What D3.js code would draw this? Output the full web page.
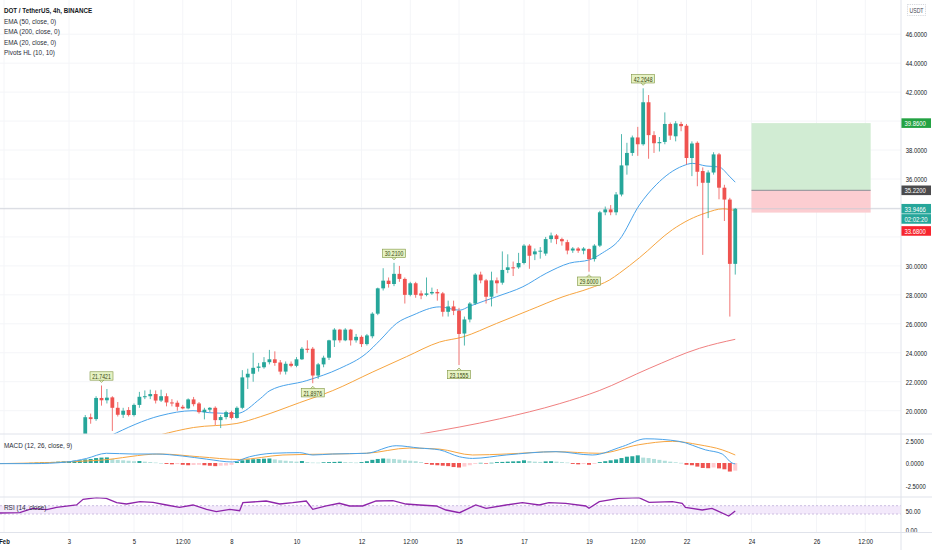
<!DOCTYPE html>
<html>
<head>
<meta charset="utf-8">
<script src="https://cdnjs.cloudflare.com/ajax/libs/d3/7.8.5/d3.min.js"></script>
<style>
  body { margin: 0; background: #fff; }
  svg { display: block; font-family: "Liberation Sans", Arial, sans-serif; }
</style>
</head>
<body>
<div id="chart"></div>
<script>
// ---- data ----
var candleStart = Date.UTC(2021, 1, 3, 12);   // first visible 4h candle
var oscStart = Date.UTC(2021, 1, 1, 0);       // first MACD / RSI bar

var open  = [18.3,19.55,19.42,20.88,20.72,20.92,20.2,19.72,20.05,19.7,20.4,20.96,21.0,21.15,20.7,21.0,20.57,20.55,20.27,20.16,
  20.78,20.5,19.9,20.07,20.2,19.35,19.56,19.9,19.5,20.2,22.3,22.55,22.96,23.0,23.35,23.55,23.33,22.7,23.24,23.1,
  23.55,24.28,24.28,22.43,23.2,23.66,24.86,25.6,24.86,25.6,24.86,25.1,24.6,25.14,26.7,28.45,28.98,28.75,29.45,29.1,
  28.0,28.8,28.1,28.0,28.1,28.2,28.1,26.83,27.2,26.9,25.33,26.3,27.4,29.4,29.0,27.87,29.0,28.84,29.72,29.9,
  29.9,30.2,31.4,30.8,31.0,30.85,31.85,32.1,31.85,31.64,31.06,31.2,31.05,31.16,30.47,31.4,33.7,33.9,33.7,34.93,
  36.94,37.8,38.87,38.4,41.3,39.03,38.47,38.56,39.8,38.95,39.8,39.68,37.45,38.5,36.55,35.74,36.45,37.7,35.4,34.58,30.14];
var high  = [19.7,19.8,21.0,21.7421,21.5,21.0,20.6,20.2,20.25,20.5,21.3,21.4,21.45,21.4,21.45,21.2,20.8,20.7,20.4,20.85,
  20.95,20.6,20.2,20.25,20.3,19.7,20.0,20.0,20.3,22.8,22.9,24.0,23.3,23.7,24.2,24.1,23.5,23.4,23.4,23.7,
  24.4,24.86,24.4,23.3,23.8,24.9,25.7,25.65,25.7,25.65,25.3,25.2,25.3,26.8,28.5,29.84,29.2,30.21,30.0,29.2,
  28.9,28.9,28.3,29.2,28.5,28.4,28.2,27.6,27.6,27.1,26.5,27.5,29.5,29.6,29.1,29.6,29.2,31.0,30.8,30.3,
  30.9,31.5,31.5,31.2,31.3,32.0,32.3,32.2,31.95,31.8,31.3,31.3,31.3,31.2,31.5,33.8,34.1,34.2,35.1,39.1,
  38.5,39.0,39.6,42.2648,41.8,39.3,38.9,40.6,39.9,40.0,39.95,39.8,38.6,38.6,36.8,36.6,37.85,37.8,35.6,34.7,34.0];
var low   = [18.0,19.1,19.3,20.35,20.5,18.6,19.6,19.5,19.6,19.6,20.2,20.8,20.8,20.5,20.6,20.3,20.3,20.0,20.1,20.1,
  20.3,19.8,19.4,19.9,19.0,18.8,19.4,19.4,19.45,20.1,21.5,22.0,22.7,22.9,23.2,23.1,22.5,22.5,23.0,23.0,
  23.5,24.0,21.8976,22.2,23.0,23.5,24.4,24.7,24.8,24.5,24.7,24.4,24.5,25.0,26.6,28.3,28.5,28.6,28.9,27.4,
  27.9,27.8,27.7,27.9,28.0,27.6,26.5,26.5,26.6,23.1555,24.5,26.1,27.3,28.8,27.4,27.2,28.1,28.7,29.5,29.3,
  29.8,30.1,29.8,30.4,30.5,30.7,31.6,31.5,31.4,30.8,30.9,30.9,30.8,29.6,30.3,31.3,33.5,33.5,33.5,34.8,
  36.3,37.6,37.6,38.3,37.4,37.8,37.9,38.4,38.7,38.6,39.3,37.0,36.2,35.5,30.76,33.3,36.3,34.6,33.1,26.5,29.4];
var close = [19.55,19.42,20.88,20.72,20.9,20.2,19.72,20.0,19.7,20.4,20.96,21.0,21.15,20.7,21.0,20.57,20.5,20.27,20.16,20.78,
  20.45,19.9,20.07,20.2,19.35,19.56,19.9,19.5,20.2,22.3,22.55,22.96,23.05,23.35,23.55,23.3,22.7,23.24,23.1,23.55,
  24.28,24.2,22.43,23.2,23.66,24.86,25.6,24.86,25.6,24.86,25.1,24.6,25.2,26.7,28.45,28.98,28.75,29.45,29.1,28.0,
  28.8,28.0,27.95,28.1,28.2,28.1,26.83,27.2,26.9,25.3,26.3,27.4,29.4,29.0,27.87,29.0,28.8,29.72,29.9,29.85,
  30.2,31.4,30.7,31.0,31.05,31.85,32.1,31.85,31.7,31.06,31.2,31.05,31.2,30.47,31.4,33.7,33.9,33.7,34.93,36.94,
  37.8,38.87,38.4,41.3,39.03,38.47,38.55,39.8,39.0,39.84,39.65,37.45,38.45,36.5,35.74,36.45,37.7,35.4,34.58,30.14,33.9466];

// [candle index, value]
var ema20 = [[4.6,18.26],[13.8,19.65],[19.9,20.0],[23,19.86],[28,19.81],[32.3,20.83],[34.1,21.39],[40.9,22.08],[47,22.92],
  [51.9,23.96],[54.4,24.86],[57.5,26.04],[60.5,26.6],[65.4,27.17],[69.1,26.94],[71,27.22],[75.9,27.87],[80.8,28.56],
  [85.1,29.49],[89.4,30.19],[93.1,30.42],[95.5,30.9],[98.6,31.8],[102.3,34.2],[105.4,35.6],[110.3,36.9],[112.1,37.08],
  [114.6,36.9],[117,36.83],[118.9,36.2],[120,35.78]];
var ema50 = [[13.8,18.33],[20,18.84],[28,19.12],[32.3,19.58],[39.6,20.56],[45.7,21.39],[53.1,22.68],[59.3,23.73],[65.4,24.74],
  [69.7,25.09],[75.9,26.02],[82,26.94],[88.2,27.87],[93.1,28.45],[96.8,29.03],[98.6,29.49],[102.3,30.56],[108.4,32.5],
  [111.5,33.19],[114.6,33.66],[117.7,33.94],[120,33.82]];
var ema200 = [[61.8,18.39],[76.5,19.44],[87.6,20.49],[94.9,21.39],[104.1,22.92],[113.4,24.31],[120,24.93]];

var pivotHighIdx = [3, 57, 103];
var pivotLowIdx = [42, 69, 93];

var targetPrice = 39.86, entryPrice = 35.22, stopPrice = 33.68;
var positionFrom = "2021-02-24T00:00Z", positionTo = "2021-02-27T16:00Z";
var lastPrice = 33.9466, countdown = "02:02:20";

// MACD histogram, one value per 4h bar from Feb 1
var macdHist = [-0.1,-0.1,-0.08,-0.05,0,0.02,0.05,0.08,0.1,0.12,0.15,0.18,0.2,0.25,0.3,0.4,0.45,0.55,0.6,0.62,
  0.45,0.35,0.3,0.25,0.2,0.22,0.15,0.1,0.05,0,-0.1,-0.15,-0.12,-0.2,-0.25,-0.22,-0.2,-0.25,-0.3,-0.35,
  -0.3,-0.28,-0.2,0.15,0.3,0.4,0.42,0.45,0.48,0.5,0.4,0.3,0.25,0.2,0.15,0.22,0.1,0.05,0.04,0.08,
  0.1,0.12,0.15,0.1,0.08,0.05,0.1,0.2,0.35,0.45,0.5,0.48,0.45,0.38,0.3,0.25,0.2,0.1,-0.1,-0.2,
  -0.25,-0.3,-0.35,-0.45,-0.5,-0.4,-0.25,-0.1,0.02,-0.05,0.03,0.1,0.12,0.15,0.18,0.2,0.3,0.22,0.15,0.12,
  0.18,0.2,0.15,0.1,0.05,-0.1,-0.15,-0.12,-0.2,-0.1,0.1,0.2,0.3,0.4,0.55,0.7,0.75,0.85,0.6,0.55,
  0.45,0.35,0.25,0.15,0.08,0.02,-0.2,-0.25,-0.4,-0.55,-0.58,-0.5,-0.6,-0.7,-0.95,-0.85];
// [bar index from Feb 1, value]
var macdLine = [[-1,-0.07],[5.3,-0.07],[11.6,0.11],[15.2,0.5],[18.9,1.08],[23.8,1.0],[28.1,1.0],[33,0.77],[37.4,0.43],
  [42.2,0.11],[45.3,0.69],[49.6,1.08],[54.6,1.15],[57,0.89],[60.6,1.0],[66.9,1.08],[72.4,1.92],[76.7,1.66],[80.4,1.46],
  [84.1,0.69],[86.5,0.51],[92.7,0.89],[101.9,1.26],[108.6,0.89],[114.2,1.84],[118.5,2.69],[124.6,2.41],[129.5,1.46],
  [132.6,1.0],[134.4,0.0],[135,-0.1]];
var signalLine = [[-1,-0.07],[17.7,0.31],[28.8,1.0],[36.1,0.69],[43.5,0.39],[51.5,0.89],[60.6,1.0],[66.9,1.08],[74.8,1.66],
  [80.4,1.54],[86.5,0.89],[92.7,1.0],[101.9,1.26],[109.9,1.08],[117.2,2.03],[123.4,2.41],[128.3,2.03],[132.6,1.46],[135,0.89]];
var rsiLine = [[-1,44.7],[2.9,45.5],[5.3,57.1],[7.9,53.4],[9.7,59.7],[13.4,65.8],[14.6,80.8],[17.1,85],[18.9,83.4],[20.8,71.8],
  [22.6,68.4],[25.1,74.5],[27.5,72.9],[30,65.8],[32.4,59.7],[34.9,65.8],[37.4,54.5],[39.2,48.2],[41.7,54.5],[43.5,50.8],
  [44.1,71.8],[48.4,76.3],[50.9,68.4],[53.3,71.8],[55.8,76.3],[57,54.5],[59.5,63.2],[61.9,70.3],[63.8,63.2],[66.2,63.2],
  [68.7,76.3],[71.8,77.1],[74.2,68.4],[76.7,65.8],[79.8,63.2],[81.6,52.6],[84.1,45.5],[87.1,65.8],[89,57.1],[92.7,65.8],
  [95.7,71.8],[98.8,65.8],[100.6,71.8],[103.7,70.3],[107.4,63.2],[108,57.1],[109.9,74.5],[113.5,83.4],[117.2,85],[119.1,72.9],
  [123.4,74.5],[125.2,70.3],[125.8,59.7],[128.9,52.6],[130.7,57.1],[133.8,36.8],[135,50]];
var rsiBandTop = 64, rsiBandBottom = 42;

var priceTicks = [20,22,24,26,28,30,32,34,36,38,40,42,44,46];
var macdTicks = [2.5, 0, -2.5];
var rsiTicks = [50, 0];
var timeTicks = ["2021-02-01T00:00Z","2021-02-03T00:00Z","2021-02-05T00:00Z","2021-02-06T12:00Z","2021-02-08T00:00Z",
  "2021-02-10T00:00Z","2021-02-12T00:00Z","2021-02-13T12:00Z","2021-02-15T00:00Z","2021-02-17T00:00Z","2021-02-19T00:00Z",
  "2021-02-20T12:00Z","2021-02-22T00:00Z","2021-02-24T00:00Z","2021-02-26T00:00Z","2021-02-27T12:00Z"];
var timeTickLabels = ["Feb","3","5","12:00","8","10","12","12:00","15","17","19","12:00","22","24","26","12:00"];
var legendLines = ["EMA (50, close, 0)", "EMA (200, close, 0)", "EMA (20, close, 0)", "Pivots HL (10, 10)"];

// ---- layout ----
var W = 932, H = 550;
var axisX = 901, mainBottom = 434, macdBottom = 497, rsiBottom = 532.5;
var up = "#26a69a", down = "#ef5350", sepColor = "#e0e3eb", textColor = "#131722";
var SX = 0.74;  // screenshot is horizontally squeezed

var hour4 = 4 * 3600 * 1000;
function candleTime(i) { return new Date(candleStart + i * hour4); }
function oscTime(j) { return new Date(oscStart + j * hour4); }

var x = d3.scaleUtc().domain([new Date("2021-02-01T00:00Z"), new Date("2021-02-28T00:00Z")]).range([4, 881.5]);
var y = d3.scaleLinear().domain([20, 46]).range([410.7, 34.2]);
var yMacd = d3.scaleLinear().domain([-2.5, 2.5]).range([485.5, 440.5]);
var yRsi = d3.scaleLinear().domain([0, 100]).range([530, 492]);

var svg = d3.select("#chart").append("svg").attr("width", W).attr("height", H);
var defs = svg.append("defs");
function clip(id, y0, y1) {
  defs.append("clipPath").attr("id", id).append("rect")
    .attr("x", 0).attr("y", y0).attr("width", axisX).attr("height", y1 - y0);
}
clip("c-main", 0, mainBottom);
clip("c-macd", mainBottom, macdBottom);
clip("c-rsi", macdBottom, rsiBottom);

function txt(g, x0, y0, s, size, opts) {
  opts = opts || {};
  return g.append("text")
    .attr("transform", "translate(" + x0 + "," + y0 + ") scale(" + (opts.sx || SX) + ",1)")
    .attr("font-size", size)
    .attr("font-weight", opts.bold ? "bold" : null)
    .attr("fill", opts.fill || textColor)
    .attr("text-anchor", opts.anchor || "start")
    .attr("dominant-baseline", "central")
    .text(s);
}

// faint grid
var grid = svg.append("g");
grid.selectAll("line.v").data(timeTicks).enter().append("line")
  .attr("x1", d => x(new Date(d))).attr("x2", d => x(new Date(d)))
  .attr("y1", 0).attr("y2", rsiBottom).attr("stroke", "#f4f5f8");
grid.selectAll("line.h").data(priceTicks).enter().append("line")
  .attr("x1", 0).attr("x2", axisX).attr("y1", d => y(d)).attr("y2", d => y(d)).attr("stroke", "#f4f5f8");

// ---- main panel ----
var main = svg.append("g").attr("clip-path", "url(#c-main)");

// long position tool
var px0 = x(new Date(positionFrom)), px1 = x(new Date(positionTo));
main.append("rect").attr("x", px0).attr("width", px1 - px0)
  .attr("y", y(targetPrice)).attr("height", y(entryPrice) - y(targetPrice)).attr("fill", "#d1ecd3");
main.append("rect").attr("x", px0).attr("width", px1 - px0)
  .attr("y", y(entryPrice)).attr("height", y(stopPrice) - y(entryPrice)).attr("fill", "#fccdd1");
main.append("line").attr("x1", px0).attr("x2", px1).attr("y1", y(entryPrice)).attr("y2", y(entryPrice))
  .attr("stroke", "#8a8d94").attr("stroke-width", 1);

// last price line
main.append("line").attr("x1", 0).attr("x2", axisX).attr("y1", y(lastPrice)).attr("y2", y(lastPrice))
  .attr("stroke", "#c9ccd4").attr("stroke-width", 0.8);

// EMA lines
function emaPath(data, color) {
  main.append("path").datum(data)
    .attr("fill", "none").attr("stroke", color).attr("stroke-width", 1)
    .attr("d", d3.line().x(d => x(candleTime(d[0]))).y(d => y(d[1])).curve(d3.curveMonotoneX));
}
emaPath(ema200, "#f08080");
emaPath(ema50, "#f7a540");
emaPath(ema20, "#4aa3ea");

// candles
var candles = open.map(function(o, i) {
  return { t: candleTime(i), o: o, h: high[i], l: low[i], c: close[i] };
});
main.selectAll("line.wick").data(candles).enter().append("line")
  .attr("x1", d => x(d.t)).attr("x2", d => x(d.t))
  .attr("y1", d => y(d.h)).attr("y2", d => y(d.l))
  .attr("stroke", d => d.c >= d.o ? up : down).attr("stroke-width", 0.8);
main.selectAll("rect.body").data(candles).enter().append("rect")
  .attr("x", d => x(d.t) - 1.9).attr("width", 3.8)
  .attr("y", d => y(Math.max(d.o, d.c)))
  .attr("height", d => Math.max(1, Math.abs(y(d.o) - y(d.c))))
  .attr("fill", d => d.c >= d.o ? up : down);

// pivot labels
function pivotLabel(i, val, isHigh) {
  var cx = x(candleTime(i));
  var tip = y(val) + (isHigh ? -3 : 3);
  var cy = isHigh ? tip - 6.5 : tip + 6.5;
  var g = main.append("g");
  g.append("path")
    .attr("d", isHigh
      ? "M" + (cx - 2.5) + "," + (cy + 4) + "L" + cx + "," + tip + "L" + (cx + 2.5) + "," + (cy + 4)
      : "M" + (cx - 2.5) + "," + (cy - 4) + "L" + cx + "," + tip + "L" + (cx + 2.5) + "," + (cy - 4))
    .attr("fill", "#e6f2c4").attr("stroke", "#7f9440").attr("stroke-width", 0.6);
  g.append("rect").attr("x", cx - 11.5).attr("y", cy - 4.2).attr("width", 23).attr("height", 8.4)
    .attr("fill", "#e6f2c4").attr("stroke", "#7f9440").attr("stroke-width", 0.6);
  txt(g, cx, cy + 0.3, val.toFixed(4), 7, { anchor: "middle", fill: "#39480f" });
}
pivotHighIdx.forEach(i => pivotLabel(i, high[i], true));
pivotLowIdx.forEach(i => pivotLabel(i, low[i], false));

// ---- MACD panel ----
var macd = svg.append("g").attr("clip-path", "url(#c-macd)");
macd.selectAll("rect").data(macdHist).enter().append("rect")
  .attr("x", (d, j) => x(oscTime(j)) - 2).attr("width", 4)
  .attr("y", d => Math.min(yMacd(0), yMacd(d)))
  .attr("height", d => Math.max(0.6, Math.abs(yMacd(d) - yMacd(0))))
  .attr("fill", function(d, j) {
    var prev = j > 0 ? macdHist[j - 1] : d;
    if (d >= 0) return d >= prev ? "#26a69a" : "#b2dfdb";
    return d <= prev ? "#ef5350" : "#ffcdd2";
  });
var oscLine = d3.line().x(d => x(oscTime(d[0]))).curve(d3.curveMonotoneX);
macd.append("path").datum(signalLine).attr("fill", "none").attr("stroke", "#f7a540").attr("stroke-width", 1)
  .attr("d", oscLine.y(d => yMacd(d[1])));
macd.append("path").datum(macdLine).attr("fill", "none").attr("stroke", "#4aa3ea").attr("stroke-width", 1)
  .attr("d", oscLine.y(d => yMacd(d[1])));

// ---- RSI panel ----
var rsi = svg.append("g").attr("clip-path", "url(#c-rsi)");
rsi.append("rect").attr("x", 0).attr("width", axisX)
  .attr("y", yRsi(rsiBandTop)).attr("height", yRsi(rsiBandBottom) - yRsi(rsiBandTop)).attr("fill", "#f3e9fb");
[rsiBandTop, rsiBandBottom].forEach(function(v) {
  rsi.append("line").attr("x1", 0).attr("x2", axisX).attr("y1", yRsi(v)).attr("y2", yRsi(v))
    .attr("stroke", "#b9a6d6").attr("stroke-width", 0.7).attr("stroke-dasharray", "2,2");
});
rsi.append("path").datum(rsiLine).attr("fill", "none").attr("stroke", "#8e24aa").attr("stroke-width", 1.3)
  .attr("d", d3.line().x(d => x(oscTime(d[0]))).y(d => yRsi(d[1])));

// ---- price scales ----
// coloured tags sit on the scale; plain tick labels hidden behind them are skipped
var tags = [
  { y: y(targetPrice), s: targetPrice.toFixed(4), bg: "#23a243" },
  { y: y(entryPrice), s: entryPrice.toFixed(4), bg: "#4a4a4c" },
  { y: y(lastPrice), s: lastPrice.toFixed(4), bg: "#26a69a" },
  { y: y(lastPrice) + 10.2, s: countdown, bg: "#26a69a" },
  { y: y(lastPrice) + 22.2, s: stopPrice.toFixed(4), bg: "#f7252f" }
];
var shownTicks = priceTicks.filter(p => tags.every(t => Math.abs(t.y - y(p)) > 7));

function priceAxis(scale, ticks, fmt) {
  var g = svg.append("g").attr("transform", "translate(" + (axisX + 1) + ",0)")
    .call(d3.axisRight(scale).tickValues(ticks).tickFormat(fmt).tickSize(0).tickPadding(5));
  g.select(".domain").remove();
  g.selectAll("text").attr("transform", "scale(" + SX + ",1)")
    .attr("font-size", 8).attr("font-family", "Liberation Sans, Arial, sans-serif").attr("fill", textColor);
  return g;
}
priceAxis(y, shownTicks, d => d.toFixed(4));
priceAxis(yMacd, macdTicks, d => d.toFixed(4));
priceAxis(yRsi, rsiTicks, d => d.toFixed(2));

tags.forEach(function(t) {
  var g = svg.append("g");
  g.append("rect").attr("x", axisX).attr("y", t.y - 4.8).attr("width", 30).attr("height", 9.6).attr("fill", t.bg);
  txt(g, axisX + 3.5, t.y + 0.3, t.s, 8, { fill: "#fff" });
});

// currency box
svg.append("rect").attr("x", 907.5).attr("y", 4.5).attr("width", 18).attr("height", 11)
  .attr("fill", "#fff").attr("stroke", "#b8bcc6").attr("stroke-width", 0.6).attr("stroke-dasharray", "1.2,1");
txt(svg, 916.5, 10.3, "USDT", 7, { anchor: "middle", fill: "#434651" });

// ---- separators ----
svg.append("rect").attr("x", 0).attr("y", rsiBottom).attr("width", W).attr("height", H - rsiBottom).attr("fill", "#fff");
[mainBottom, macdBottom, rsiBottom].forEach(function(v) {
  svg.append("line").attr("x1", 0).attr("x2", W).attr("y1", v).attr("y2", v).attr("stroke", sepColor);
});
svg.append("line").attr("x1", axisX).attr("x2", axisX).attr("y1", 0).attr("y2", H).attr("stroke", sepColor);

// ---- time axis ----
var xa = svg.append("g").attr("transform", "translate(0," + rsiBottom + ")")
  .call(d3.axisBottom(x).tickValues(timeTicks.map(d => new Date(d)))
    .tickFormat((d, i) => timeTickLabels[i]).tickSize(0).tickPadding(6));
xa.select(".domain").remove();
xa.selectAll("text").attr("transform", "scale(" + SX + ",1)")
  .attr("font-size", 8).attr("font-family", "Liberation Sans, Arial, sans-serif").attr("fill", textColor)
  .attr("font-weight", (d, i) => i === 0 ? "bold" : null);

// ---- legends ----
txt(svg, 4, 10.5, "DOT / TetherUS, 4h, BINANCE", 8, { bold: true, sx: 0.78 });
legendLines.forEach(function(s, k) {
  txt(svg, 4, 21 + k * 10.5, s, 8, { fill: "#2a2e39", sx: 0.8 });
});
txt(svg, 4, 445, "MACD (12, 26, close, 9)", 8, { fill: "#2a2e39", sx: 0.8 });
txt(svg, 4, 507.5, "RSI (14, close)", 8, { fill: "#2a2e39", sx: 0.8 });
</script>
</body>
</html>
